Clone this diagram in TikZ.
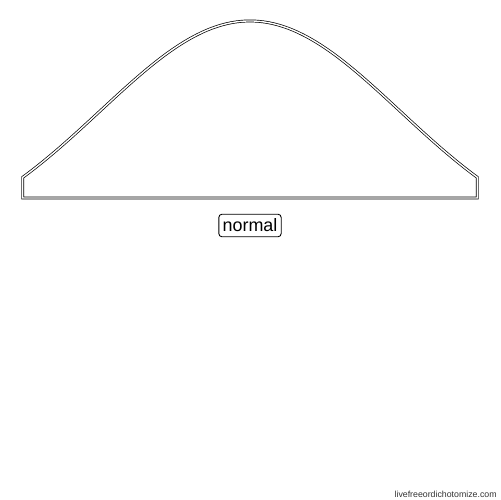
\documentclass[tikz,border=0pt]{standalone}
\usepackage{fontspec}
\setmainfont{Liberation Sans}
\begin{document}
\begin{tikzpicture}[x=0.02cm,y=-0.02cm,
  outline/.style={draw=black,double=white,double distance=0.8pt,line width=0.4pt,line join=miter},
  labelbox/.style={draw=black,line width=0.5pt,rounded corners=1.8pt,inner sep=0pt,minimum width=35.5pt,minimum height=12.8pt,font=\fontsize{10.2pt}{12pt}\selectfont},
  wmark/.style={inner sep=0pt,font=\fontsize{5pt}{6pt}\selectfont,text=black!80}]
\useasboundingbox (0,0) rectangle (500,500);
\coordinate (bl) at (22.7,198);
\coordinate (br) at (477.3,198);
\coordinate (tl) at (22.7,177.8);
\coordinate (tr) at (477.3,177.8);
\draw[outline] (bl) -- (tl) -- plot[domain=22.7:477.3,samples=150,smooth] (\x,{250-229*exp(-((\x-250)/100)^2/4.5)}) -- (tr) -- (br) -- cycle;
\node[labelbox] (lab) at (250,225.5) {normal};
\node[wmark,anchor=south east] (wm) at (497,498) {livefreeordichotomize.com};
\end{tikzpicture}
\end{document}
